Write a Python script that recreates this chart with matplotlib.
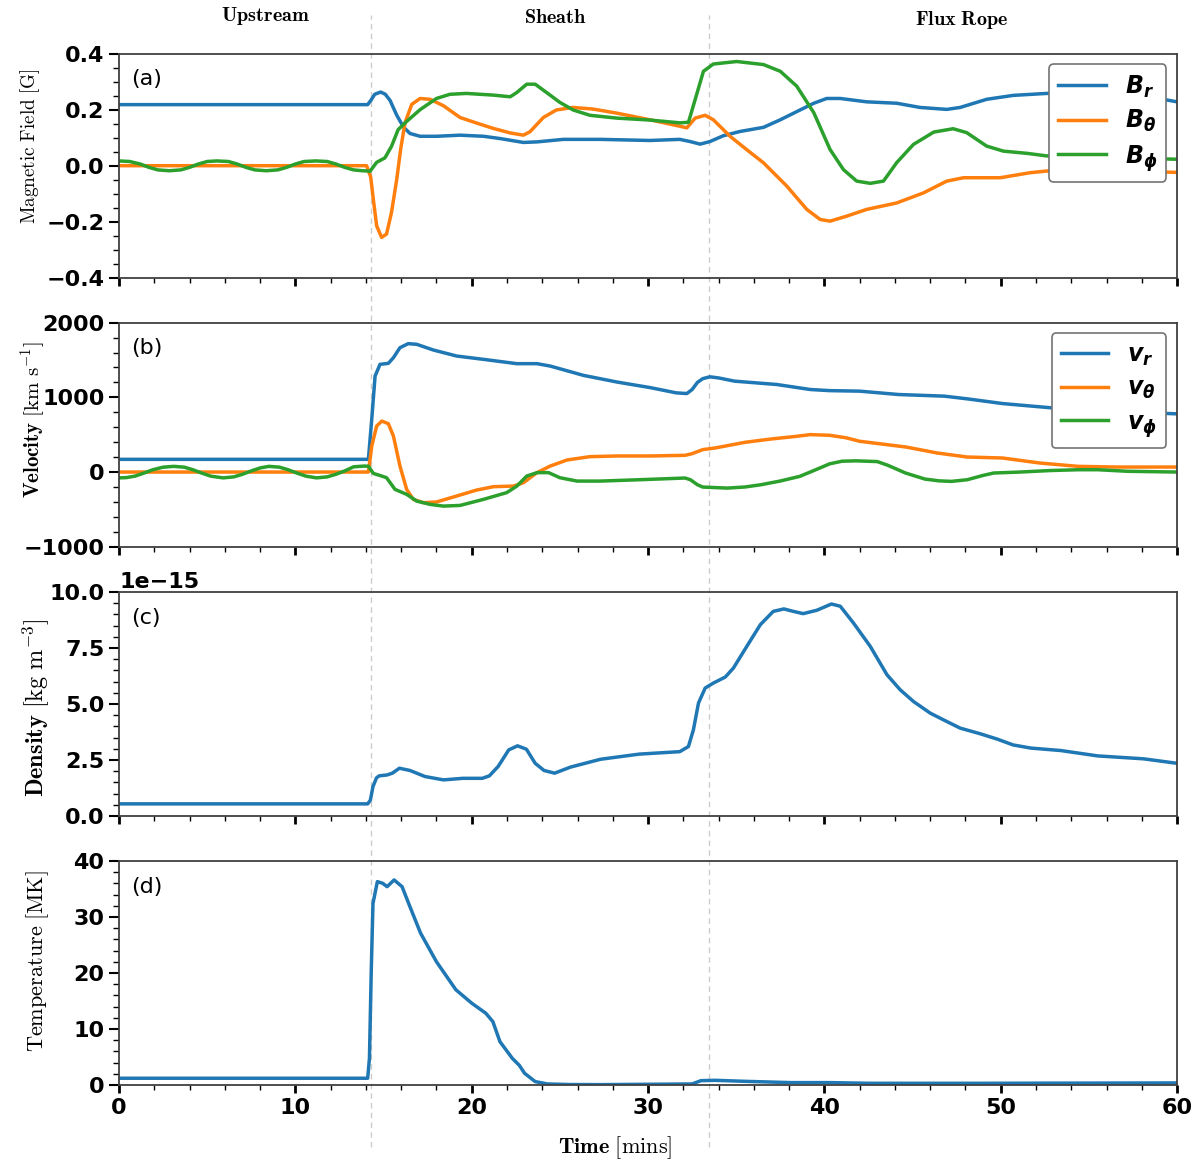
import matplotlib
matplotlib.use('Agg')
import matplotlib.pyplot as plt
import matplotlib.transforms as mtransforms
from matplotlib.ticker import AutoMinorLocator, MultipleLocator
from matplotlib.font_manager import FontProperties
from matplotlib.lines import Line2D

# ---------------- data ----------------
# Panel (a) magnetic field [G]
br_t = [0, 14.1, 14.3, 14.5, 14.84, 15.1, 15.37, 15.75, 16.13, 16.5, 17.07, 18.0, 19.34, 20.67,
        21.6, 22.93, 23.7, 25.2, 27.3, 30.1, 31.8, 32.4, 32.95, 33.5, 34.27, 35.2, 36.55,
        37.5, 38.43, 39.4, 40.13, 40.9, 42.4, 44.1, 45.42, 46.94, 47.7, 49.2, 50.7, 52.6,
        55.0, 57.0, 58.5, 60]
br_v = [0.218, 0.218, 0.235, 0.255, 0.263, 0.255, 0.233, 0.18, 0.138, 0.115, 0.105, 0.105,
        0.109, 0.105, 0.097, 0.083, 0.085, 0.094, 0.094, 0.09, 0.094, 0.086, 0.077, 0.086,
        0.107, 0.122, 0.137, 0.164, 0.193, 0.223, 0.24, 0.24, 0.228, 0.223, 0.208, 0.201,
        0.208, 0.237, 0.251, 0.258, 0.26, 0.257, 0.245, 0.228]

bth_t = [0, 14.04, 14.27, 14.42, 14.61, 14.89, 15.17, 15.45, 15.75, 15.97, 16.22, 16.6, 17.07,
         17.64, 18.4, 19.34, 20.29, 21.23, 22.18, 22.93, 23.3, 24.06, 24.8, 25.75, 26.9, 28.2,
         30.1, 31.8, 32.2, 32.67, 33.24, 33.7, 34.65, 35.6, 36.55, 37.87, 39.0, 39.76, 40.32,
         41.27, 42.4, 44.1, 45.62, 46.94, 47.89, 49.97, 51.67, 52.6, 55.0, 57.0, 60]
bth_v = [0, 0, -0.04, -0.12, -0.215, -0.256, -0.244, -0.167, -0.048, 0.059, 0.154, 0.219,
         0.24, 0.237, 0.214, 0.172, 0.152, 0.133, 0.117, 0.109, 0.121, 0.172, 0.199, 0.208,
         0.202, 0.188, 0.164, 0.141, 0.135, 0.17, 0.18, 0.164, 0.105, 0.057, 0.01, -0.073,
         -0.156, -0.192, -0.198, -0.18, -0.156, -0.133, -0.097, -0.055, -0.043, -0.043,
         -0.025, -0.019, -0.015, -0.018, -0.024]

bph_t = [0, 0.6, 1.2, 1.7, 2.2, 2.85, 3.5, 4.0, 4.5, 5.0, 5.55, 6.2, 6.7, 7.2, 7.7, 8.35, 9.0,
         9.5, 10.0, 10.5, 11.15, 11.8, 12.3, 12.8, 13.3, 13.8, 14.1, 14.23, 14.61, 15.08,
         15.45, 15.83, 16.31, 17.07, 18.0, 18.77, 19.7, 21.23, 22.18, 22.55, 23.12, 23.6,
         24.25, 25.0, 25.75, 26.7, 28.2, 30.1, 31.8, 32.29, 32.67, 33.14, 33.7, 35.03, 36.55,
         37.5, 38.43, 39.4, 40.32, 41.08, 41.83, 42.6, 43.35, 44.1, 45.05, 46.2, 47.3, 48.07,
         49.2, 50.15, 51.5, 52.6, 55.0, 57.5, 60]
bph_v = [0.017, 0.015, 0.006, -0.006, -0.015, -0.018, -0.015, -0.006, 0.006, 0.015, 0.017,
         0.015, 0.006, -0.006, -0.015, -0.018, -0.015, -0.006, 0.006, 0.015, 0.017, 0.015,
         0.006, -0.006, -0.015, -0.018, -0.019, -0.02, 0.012, 0.028, 0.069, 0.129, 0.158,
         0.2, 0.24, 0.255, 0.258, 0.252, 0.246, 0.261, 0.291, 0.291, 0.261, 0.226, 0.199,
         0.18, 0.17, 0.163, 0.153, 0.155, 0.236, 0.337, 0.363, 0.372, 0.361, 0.337, 0.284,
         0.189, 0.058, -0.014, -0.055, -0.063, -0.055, 0.011, 0.076, 0.12, 0.132, 0.118,
         0.07, 0.052, 0.044, 0.035, 0.03, 0.027, 0.023]

# Panel (b) velocity [km/s]
vr_t = [0, 14.14, 14.33, 14.52, 14.8, 15.27, 15.56, 15.93, 16.4, 16.88, 17.82, 19.15, 20.66,
        22.56, 23.7, 24.45, 26.34, 28.24, 30.13, 31.6, 32.2, 32.5, 32.8, 33.1, 33.5, 34.0,
        34.9, 37.3, 39.2, 40.3, 42.0, 44.2, 46.8, 48.1, 50.1, 52.9, 55.0, 57.0, 60]
vr_v = [170, 170, 706, 1285, 1442, 1455, 1531, 1665, 1719, 1710, 1634, 1553, 1509, 1451, 1451,
        1419, 1294, 1205, 1130, 1060, 1051, 1105, 1200, 1250, 1275, 1260, 1217, 1172, 1105,
        1090, 1083, 1038, 1016, 980, 917, 859, 830, 805, 779]

vth_t = [0, 14.14, 14.33, 14.61, 14.9, 15.27, 15.56, 15.93, 16.31, 16.69, 17.26, 18.0, 19.15,
         20.28, 21.23, 22.37, 22.93, 23.7, 24.45, 25.4, 26.7, 28.24, 30.13, 32.1, 32.5, 33.1,
         33.8, 35.5, 37.0, 38.3, 39.2, 40.3, 41.2, 42.0, 44.6, 46.4, 48.1, 50.1, 52.2, 54.4,
         56.6, 60]
vth_v = [0, 0, 348, 616, 682, 648, 482, 80, -232, -366, -410, -401, -321, -241, -196, -188,
         -143, -8, 80, 161, 206, 215, 215, 224, 246, 300, 322, 398, 443, 475, 501, 492, 460,
         412, 336, 255, 201, 188, 121, 76, 67, 67]

vph_t = [0, 0.4, 0.9, 1.4, 1.9, 2.5, 3.1, 3.7, 4.2, 4.7, 5.2, 5.9, 6.5, 7.0, 7.5, 8.0, 8.5,
         9.1, 9.6, 10.1, 10.6, 11.2, 11.8, 12.3, 12.8, 13.3, 13.9, 14.14, 14.42, 14.9, 15.17,
         15.65, 16.31, 16.88, 17.64, 18.4, 19.34, 20.66, 21.98, 22.56, 23.12, 23.7, 24.36,
         25.0, 25.97, 27.3, 29.5, 32.1, 32.4, 32.8, 33.1, 34.5, 35.5, 36.4, 37.5, 38.6, 39.5,
         40.3, 41.0, 41.8, 43.0, 43.6, 44.6, 45.7, 46.5, 47.2, 48.1, 49.0, 49.6, 51.1, 52.8,
         54.4, 55.5, 57.2, 60]
vph_v = [-78, -75, -55, -15, 30, 65, 76, 65, 30, -15, -55, -78, -65, -30, 15, 55, 76, 65, 30,
         -15, -55, -78, -65, -30, 15, 70, 80, 78, -18, -54, -76, -232, -299, -389, -433,
         -456, -447, -366, -276, -188, -54, -8, -8, -76, -121, -121, -103, -80, -103, -170,
         -201, -215, -200, -170, -120, -58, 30, 110, 145, 150, 140, 90, -13, -94, -118, -125,
         -103, -45, -13, 0, 20, 31, 31, 10, 0]

# Panel (c) density [1e-15 kg m^-3]
rho_t = [0, 14.1, 14.25, 14.4, 14.6, 14.75, 15.2, 15.5, 15.9, 16.5, 17.35, 18.4, 19.5, 20.6,
         21.0, 21.5, 22.1, 22.6, 23.1, 23.6, 24.1, 24.7, 25.6, 27.3, 29.5, 31.8, 32.29, 32.57,
         32.86, 33.24, 33.7, 34.38, 34.84, 35.6, 36.37, 37.1, 37.7, 38.24, 38.8, 39.57, 40.4,
         40.9, 41.65, 42.6, 43.55, 44.3, 45.05, 46.0, 46.75, 47.7, 48.83, 49.8, 50.7, 51.7,
         53.4, 55.5, 58.1, 60]
rho_v = [0.54, 0.54, 0.7, 1.31, 1.7, 1.79, 1.83, 1.91, 2.13, 2.03, 1.76, 1.61, 1.68, 1.68,
         1.79, 2.21, 2.95, 3.13, 2.98, 2.35, 2.03, 1.91, 2.18, 2.53, 2.76, 2.87, 3.10, 3.84,
         5.04, 5.71, 5.93, 6.2, 6.6, 7.57, 8.54, 9.13, 9.24, 9.13, 9.03, 9.18, 9.46, 9.36,
         8.61, 7.57, 6.3, 5.63, 5.11, 4.59, 4.29, 3.92, 3.67, 3.43, 3.17, 3.03, 2.92, 2.68,
         2.55, 2.35]
rho_scale = 1e-15

# Panel (d) temperature [MK]
tem_t = [0, 14.1, 14.2, 14.3, 14.4, 14.65, 14.95, 15.2, 15.6, 16.05, 16.5, 17.1, 18.0, 19.1,
         20.0, 20.8, 21.2, 21.6, 22.3, 22.7, 23.0, 23.6, 24.3, 25.5, 27.3, 32.5, 33.0, 33.8,
         35.5, 38.1, 40.3, 42.5, 49.0, 60]
tem_v = [1.2, 1.2, 4.76, 20, 32.4, 36.3, 36.0, 35.4, 36.6, 35.4, 31.8, 27.1, 22.0, 17.0, 14.6,
         12.8, 11.3, 7.74, 4.76, 3.5, 2.08, 0.6, 0.18, 0.08, 0.06, 0.18, 0.77, 0.83, 0.65,
         0.42, 0.42, 0.30, 0.30, 0.36]

shock_times = [14.27, 33.43]
regions = ['Upstream', 'Sheath', 'Flux Rope']
region_x = [0.221, 0.463, 0.801]
region_y = [0.986, 0.985, 0.983]

# ---------------- style ----------------
plt.rcParams.update({
    'font.family': 'DejaVu Sans',
    'font.weight': 'bold',
    'mathtext.fontset': 'cm',
    'mathtext.rm': 'DejaVu Sans:bold:italic',
    'mathtext.it': 'DejaVu Sans:bold:italic',
    'mathtext.bf': 'DejaVu Sans:bold:italic',
    'xtick.labelsize': 16,
    'ytick.labelsize': 16,
})

C_BLUE, C_ORANGE, C_GREEN = '#1f77b4', '#ff7f0e', '#2ca02c'
LW = 2.5

fig = plt.figure(figsize=(12, 11.64), dpi=100)
left, width, h = 0.0992, 0.8817, 0.1925
bottoms = [0.7614, 0.5303, 0.2990, 0.0679]
axes = [fig.add_axes([left, b, width, h]) for b in bottoms]
ax_a, ax_b, ax_c, ax_d = axes

ax_a.plot(br_t, br_v, color=C_BLUE, lw=LW, label=r'$B_r$')
ax_a.plot(bth_t, bth_v, color=C_ORANGE, lw=LW, label=r'$B_\theta$')
ax_a.plot(bph_t, bph_v, color=C_GREEN, lw=LW, label=r'$B_\phi$')
ax_a.set_ylim(-0.4, 0.4)
ax_a.yaxis.set_major_locator(MultipleLocator(0.2))
ax_a.yaxis.set_minor_locator(AutoMinorLocator(4))

ax_b.plot(vr_t, vr_v, color=C_BLUE, lw=LW, label=r'$v_r$')
ax_b.plot(vth_t, vth_v, color=C_ORANGE, lw=LW, label=r'$v_\theta$')
ax_b.plot(vph_t, vph_v, color=C_GREEN, lw=LW, label=r'$v_\phi$')
ax_b.set_ylim(-1000, 2000)
ax_b.yaxis.set_major_locator(MultipleLocator(1000))
ax_b.yaxis.set_minor_locator(AutoMinorLocator(5))

ax_c.plot(rho_t, [v * rho_scale for v in rho_v], color=C_BLUE, lw=LW)
ax_c.set_ylim(0, 1e-14)
ax_c.yaxis.set_major_locator(MultipleLocator(2.5e-15))
ax_c.yaxis.set_minor_locator(AutoMinorLocator(5))
ax_c.ticklabel_format(axis='y', style='sci', scilimits=(-15, -15))
ax_c.yaxis.get_offset_text().set_fontsize(16)
ax_c.yaxis.get_offset_text().set_fontweight('bold')

ax_d.plot(tem_t, tem_v, color=C_BLUE, lw=LW)
ax_d.set_ylim(0, 40)
ax_d.yaxis.set_major_locator(MultipleLocator(10))
ax_d.yaxis.set_minor_locator(AutoMinorLocator(5))

for i, (ax, lab) in enumerate(zip(axes, ['(a)', '(b)', '(c)', '(d)'])):
    ax.set_facecolor('none')
    ax.set_xlim(0, 60)
    ax.xaxis.set_major_locator(MultipleLocator(10))
    ax.xaxis.set_minor_locator(AutoMinorLocator(5))
    for s in ax.spines.values():
        s.set_color('0.25')
        s.set_linewidth(1.3)
    ax.tick_params(axis='y', which='major', direction='out', length=7, width=1.5,
                   left=True, right=False)
    ax.tick_params(axis='y', which='minor', direction='out', length=4, width=1.0,
                   left=True, right=False)
    ax.tick_params(axis='x', which='major', direction='out', length=6, width=2,
                   bottom=True, top=False)
    ax.tick_params(axis='x', which='minor', direction='out', length=3.5, width=1.0,
                   bottom=True, top=False)
    if i < 3:
        ax.tick_params(axis='x', labelbottom=False)
    ax.text(0.011, 0.885, lab, transform=ax.transAxes, fontsize=16, fontweight='normal',
            ha='left', va='center')

leg_prop = FontProperties(size=17, math_fontfamily='custom')
for ax in (ax_a, ax_b):
    lg = ax.legend(loc='upper right', prop=leg_prop, handlelength=2.0, framealpha=1.0,
                   borderaxespad=0.45, labelspacing=0.35)
    lg.get_frame().set_edgecolor('0.45')
    lg.get_frame().set_linewidth(1.2)

# y labels (serif, Computer Modern via mathtext)
fig.text(0.025, 0.8746, r'$\mathrm{Magnetic\ Field}\ [\mathrm{G}]$', rotation=90,
         ha='center', va='center', fontsize=13.8)
fig.text(0.0275, 0.639, r'$\mathbf{Velocity}\ [\mathrm{km\ s^{-1}}]$', rotation=90,
         ha='center', va='center', fontsize=15)
fig.text(0.030, 0.392, r'$\mathbf{Density}\ [\mathrm{kg\ m^{-3}}]$', rotation=90,
         ha='center', va='center', fontsize=17.5)
fig.text(0.031, 0.174, r'$\mathrm{Temperature}\ [\mathrm{MK}]$', rotation=90,
         ha='center', va='center', fontsize=16)
fig.text(0.5125, 0.0137, r'$\mathbf{Time}\ [\mathrm{mins}]$', ha='center', va='center',
         fontsize=16)

for name, x, y in zip(regions, region_x, region_y):
    fig.text(x, y, r'$\mathbf{' + name.replace(' ', r'\ ') + '}$', ha='center', va='center',
             fontsize=14.5)

trans = mtransforms.blended_transform_factory(ax_d.transData, fig.transFigure)
for ts in shock_times:
    ln = Line2D([ts, ts], [0.0146, 0.987], transform=trans, color='#cccccc', lw=1.0,
                linestyle=(0, (4, 3)), zorder=-1)
    fig.add_artist(ln)

fig.savefig('out.png', dpi=100, facecolor='white')
